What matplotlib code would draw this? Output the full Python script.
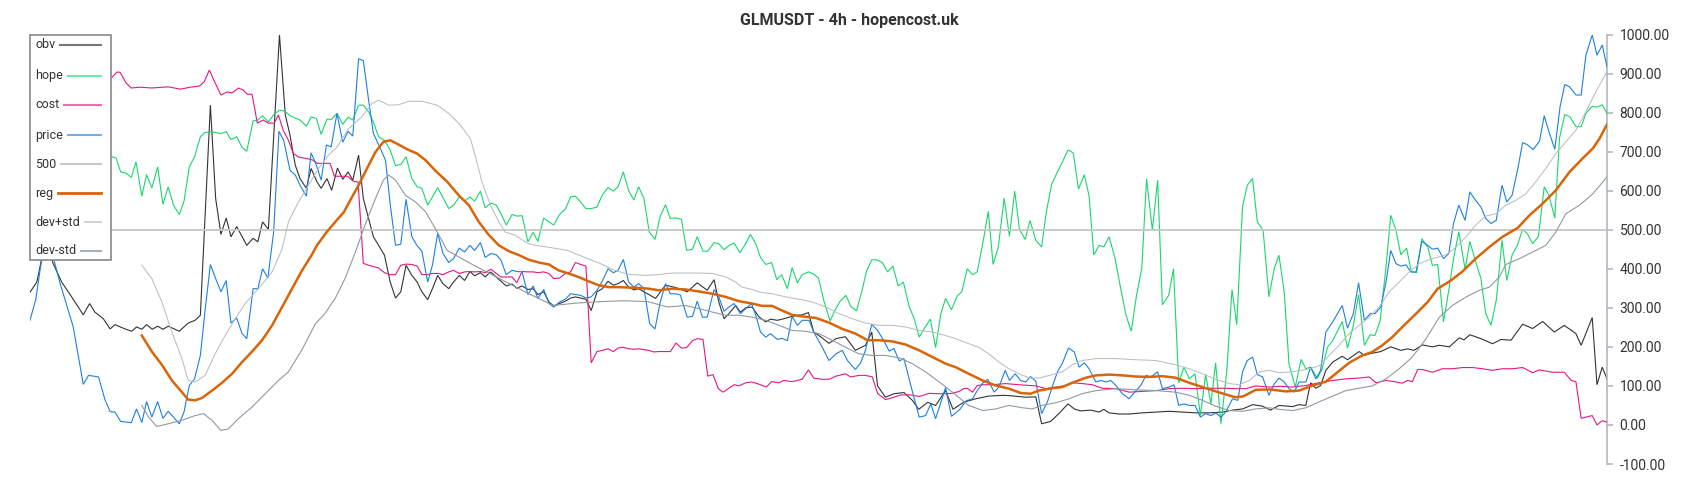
import matplotlib
matplotlib.use("Agg")
import matplotlib.pyplot as plt
from matplotlib.patches import Rectangle
from matplotlib.lines import Line2D
from matplotlib.ticker import FuncFormatter, MultipleLocator

plt.rcParams['font.family'] = ['Roboto', 'DejaVu Sans']

# ---------------- data (x = candle index, y = value) ----------------
obv_x = [0,1.3,2.2,3,3.8,4.4,6,7.9,10.1,11.3,12.3,13.9,15.2,16.1,18,19.3,20.2,21.2,22.1,23.2,24.2,25.2,26.2,28.3,30,31.3,32.3,34.2,35.2,36.2,37.2,38.1,39.2,41.1,42.3,43.2,44.1,45.2,47.3,48.4,49.3,50.3,51.2,52.4,53.3,54.4,55.2,56.3,57.2,58.3,59.3,60.3,61.2,62.3,63.2,64.2,65.1,66.1,67.2,68.3,69.3,70.3,71.3,72.4,73.4,74.3,75.4,76.3,77.3,78.3,79.4,80.3,81.4,82.4,83.4,84.3,85.4,86.3,87.3,88.4,89.3,90.3,91.4,92.3,93.3,94.4,95.4,96.3,97.4,98.4,99.3,100.4,101.5,102.5,103.4,104.4,105.4,106.4,107.5,108.5,109.6,110.6,111.5,112.5,113.5,114.5,115.4,116.4,117.6,118.6,120.5,122.4,124.6,126.5,128.4,129.7,130.6,131.6,132.5,133.8,134.7,135.7,136.9,138.2,139.5,140.4,141.7,142.9,144.2,145.5,146.4,147.6,148.6,149.9,151.5,152.8,154.6,156.5,158.4,159.6,160.7,162.2,163.8,165.7,167.3,168.5,170.2,171.7,173.6,175,177,179.3,181.8,184.7,186.6,188.8,190.7,191.8,193.5,195,196.8,198,199.2,201.1,202.7,203.6,204.6,206.5,208.4,210.9,213.5,216,218.5,221,223.6,226.1,228,229.9,231.8,233.7,235.2,236.8,239.4,240.6,241.9,242.8,243.8,244.7,245.7,247,248.8,249.8,252,253,253.9,256.1,258,259.9,261.2,262.4,264,265.9,267.2,269.1,271,271.9,273,275.1,277.3,278.9,280.8,283,284.9,286.8,289,290.9,293.1,294.1,296.2,297.1,298.1,299]
obv_y = [340,366,425,465,440,413,366,328,282,311,289,272,246,257,246,240,251,245,257,245,253,245,253,240,261,268,281,819,580,488,530,482,508,460,478,469,520,501,999,794,742,665,631,606,657,623,606,631,601,658,629,648,627,691,580,529,482,460,435,366,325,341,409,383,366,341,321,349,383,362,349,366,383,370,393,382,390,379,392,379,368,356,361,350,356,347,349,334,341,315,305,311,317,325,328,325,322,293,341,349,368,358,362,370,353,346,349,341,332,324,358,352,341,364,345,372,315,272,285,306,289,300,302,277,264,271,268,272,277,281,282,288,238,226,209,221,226,191,204,238,100,71,80,83,63,40,58,50,88,40,58,67,74,76,74,71,72,3,9,28,54,41,36,38,33,40,31,28,28,31,33,35,33,31,31,33,38,41,52,48,38,50,47,52,50,108,94,101,140,161,176,167,188,178,182,188,200,191,195,191,205,200,204,200,223,218,231,221,208,219,217,258,247,265,238,255,234,204,275,103,148,118]

hope_x = [0,8,15.6,16.3,17.2,18.2,19.2,20.1,21.2,22.1,23.1,24.2,25.2,26.2,27.2,28.3,29.2,30.2,31.2,32.3,33.2,34.2,35.2,36.2,37.2,38.1,39.2,40.2,41.1,42.3,43.2,44.1,45.2,46.2,47.3,48.3,49.3,50.3,51.2,52.4,53.3,54.3,55.2,56.3,57.2,58.2,59.3,60.3,61.2,62.3,63.2,64.2,65.1,66.1,67.2,68.3,69.3,70.3,71.3,72.4,73.4,74.3,75.4,76.3,77.3,78.3,79.4,80.3,81.4,82.4,83.4,84.3,85.4,86.3,87.4,88.4,89.3,90.3,91.4,92.3,93.3,94.4,95.4,96.3,97.4,98.4,99.3,100.4,101.5,102.5,103.4,104.4,105.4,106.4,107.5,108.5,109.6,110.6,111.5,112.5,113.5,114.5,115.4,116.4,117.4,118.5,119.5,120.5,121.4,122.4,123.5,124.5,125.6,126.5,127.6,128.5,129.7,130.6,131.6,132.5,133.5,134.6,135.5,136.6,137.6,138.5,139.5,140.6,141.6,142.5,143.6,144.5,145.5,146.4,147.6,148.5,149.5,150.5,151.7,152.6,153.6,154.7,155.6,156.7,157.7,158.6,159.6,160.5,161.6,162.6,163.6,164.6,165.6,166.7,167.6,168.6,169.6,170.7,171.7,172.7,173.6,174.7,175.8,176.7,177.7,178.7,179.6,180.7,181.7,182.6,183.6,184.7,185.7,186.7,187.6,188.7,189.6,190.7,191.8,192.7,193.7,194.8,195.7,196.8,197.8,198.8,199.9,200.8,201.7,202.7,203.6,204.6,205.7,206.8,207.8,208.8,209.8,210.8,211.7,212.8,213.8,214.7,215.9,216.8,217.8,218.8,219.8,220.9,221.9,222.9,223.9,224.8,225.8,226.9,227.9,228.8,229.9,230.8,231.8,232.7,233.8,234.9,235.9,236.8,237.8,238.7,239.9,241,241.9,242.8,244.1,245,246,247,248.8,249.8,250.9,251.9,253,254.1,255,256,257.1,258,259,259.9,261,261.9,262.9,263.9,265,265.9,266.9,268,269,269.9,270.9,272.1,273,274.1,275.1,276,277,278,279.1,280,281,282,283,283.9,284.9,286,287.1,288,289.1,290,291,292,293.1,294.1,295,296.2,297.1,298.1,299]
hope_y = [700,690,687,684,648,645,634,674,586,641,607,661,565,610,563,539,573,661,687,738,749,751,749,746,751,731,738,711,701,779,781,792,776,795,806,804,792,786,781,765,789,785,744,783,783,798,770,788,781,819,819,802,776,738,729,704,664,667,687,631,610,606,563,584,608,582,554,563,584,573,584,573,599,556,568,563,541,512,539,535,536,469,493,470,530,520,512,539,553,584,586,571,554,554,558,589,608,599,610,648,600,576,610,580,495,475,535,564,529,530,527,447,450,482,445,445,467,464,449,459,466,441,460,488,464,429,411,416,372,385,349,403,364,385,392,387,376,319,266,293,317,332,304,292,341,394,423,423,416,392,407,356,366,302,274,225,248,271,198,285,324,295,330,342,400,385,392,469,547,411,456,581,483,599,501,475,524,473,456,546,616,648,672,704,697,604,641,587,435,460,456,482,428,349,281,240,332,402,630,499,627,308,332,400,108,148,118,131,24,129,54,159,3,136,347,257,560,614,631,520,499,328,400,435,341,157,97,168,144,148,120,144,199,216,265,197,255,334,204,231,229,268,405,537,498,436,453,392,390,477,456,409,411,264,345,426,495,399,470,418,375,285,255,319,473,370,435,460,501,490,464,483,610,588,530,735,795,789,764,764,798,816,814,820,798]

cost_x = [0,8,15.6,16.5,17.1,18.2,19.2,20.9,23.1,25.2,26.2,28.5,30.4,32.1,33,34,35.1,36.2,37.4,38.3,39.5,40.4,41.2,42.1,43.1,44.2,45.2,46.3,47.1,48,49,49.9,50.9,52.2,53.5,54.5,56,56.9,57.7,58.8,60.2,61.3,62.2,63.2,64.2,66.1,67.2,68.3,69.3,70.3,71.3,72.4,73.4,74.3,75.4,76.3,77.3,78.3,79.4,80.3,81.4,82.4,83.4,84.3,85.4,86.3,87.4,88.4,89.3,90.3,91.4,92.3,93.3,94.4,95.4,96.3,97.4,98.4,99.3,100.4,101.5,102.5,103.4,104.4,105.4,106.4,107.5,108.5,109.6,110.6,111.5,112.5,113.5,114.5,115.4,116.4,117.3,118.3,119.2,121.4,122.5,123.5,124.5,125.6,126.5,127.6,128.5,129.5,130.5,131.4,132.5,133.5,134.4,135.7,136.8,137.9,139.6,140.6,142,142.9,144.5,146.4,147.6,148.6,150.2,151.5,152.8,154.6,155.6,157.2,158.4,159.7,160.7,162.2,163.8,165.1,167,168.6,170.5,172,173.6,174.9,176.2,177,177.7,178.7,179.6,180.6,182.5,185,187.5,190.7,192.6,194.5,196.4,197.6,199.5,201.4,203.3,205.9,208.4,210.9,213.5,216,218.5,221,223.6,226.1,228.6,230.5,232.4,235,236.8,239.4,241.9,244.4,247,249.5,252,253.9,255.2,257.1,258.6,260.2,261.2,262.1,263.1,264,265.9,267.8,269.7,271.6,273.5,275.4,277.3,279.2,281.1,283,284.9,286.2,288.7,290.9,292.2,293.1,294.1,295,296.2,297.1,298.1,299]
cost_y = [880,885,891,904,903,876,863,865,863,865,866,860,865,868,878,909,876,845,853,850,863,858,847,847,773,781,773,773,794,755,729,696,686,683,679,670,670,670,637,637,637,624,622,414,409,402,390,385,385,409,412,411,407,385,385,388,388,385,392,396,388,392,393,392,393,390,399,388,379,379,379,364,393,392,392,390,392,388,375,376,388,392,416,411,407,159,188,191,195,188,197,199,195,194,195,193,191,187,188,188,210,197,198,216,221,219,125,129,93,84,94,103,100,108,110,106,97,111,108,114,111,117,141,120,117,117,125,131,123,127,127,123,81,65,71,77,77,73,81,80,80,81,86,93,94,84,101,103,103,106,103,100,93,97,101,108,106,103,94,93,84,86,88,93,94,93,94,94,93,93,100,97,99,97,101,108,114,118,120,123,108,114,111,107,114,111,142,142,135,144,144,147,147,144,140,144,144,147,134,141,135,135,114,111,17,20,24,0,11,7]

price_x = [0,1.1,1.9,2.8,3.6,4.4,5.7,7,8.2,10.1,11.1,13,14.2,15.2,16.1,17.2,19.2,20.2,21.2,22.1,23.1,24.2,25.2,26.2,27.2,28.3,29.2,30.2,31.2,32.3,33.2,34.2,35.2,36.2,37.2,38.1,39.2,40.2,41.1,42.3,43.2,44.1,45.1,46.2,47.2,48.1,49.3,50.3,51.2,52.4,53.3,54.3,55.2,56.2,57.1,58.2,59.3,60.3,61.2,62.3,63.2,64.2,65.1,66.3,67.4,68.3,69.3,70.3,71.3,72.4,73.4,74.3,75.4,76.3,77.3,78.3,79.4,80.3,81.4,82.4,83.4,84.3,85.4,86.3,87.4,88.4,89.3,90.3,91.4,92.3,93.3,94.4,95.4,96.3,97.4,98.4,99.3,100.4,101.5,102.5,103.4,104.4,105.4,106.4,107.5,108.5,109.6,110.6,111.5,112.5,113.5,114.5,115.4,116.4,117.5,118.5,119.5,120.5,121.4,122.4,123.3,124.6,125.6,126.5,127.5,128.4,129.7,130.6,131.6,132.5,133.5,134.7,135.7,136.8,137.6,138.5,139.5,140.4,141.7,142.6,143.6,144.5,145.5,146.4,147.7,148.6,150.2,151.5,152.8,154,155,156.5,157.5,158.4,159.6,160.7,161.9,162.9,163.8,164.8,165.7,167,168.6,169.8,170.8,171.7,173.6,174.7,176.3,177.5,178.7,179.6,180.7,181.6,182.8,183.7,184.9,185.7,186.8,187.8,188.8,189.7,190.7,191.8,192.9,193.8,194.8,195.7,196.9,198,198.9,199.9,200.8,202.1,203,204,204.9,205.9,207.1,208.4,209.7,210.6,211.6,212.5,213.8,214.7,216,216.9,217.8,218.8,219.8,220.9,221.9,222.9,223.9,224.8,225.8,226.7,228,229,229.9,230.8,231.8,232.7,233.7,234.9,235.9,236.8,237.8,238.7,239.7,240.6,241.9,242.8,243.8,244.7,245.7,247,248.8,249.8,250.9,251.9,253,254.1,255,256.1,257.1,258,259,259.9,260.9,261.8,262.8,263.9,265,265.9,266.9,268,269,269.9,270.9,272.1,273,274.1,275.1,276,277,278,279.1,280,281,282.1,283,283.9,285,286.2,287.1,288,289.1,290.1,291,291.9,293.1,294.1,295,296.2,297.1,298.1,299]
price_y = [268,322,396,470,480,430,363,305,251,104,127,123,65,34,33,9,6,41,6,60,20,60,17,35,20,3,33,101,118,178,294,411,375,341,370,261,274,234,221,349,349,400,376,495,752,729,652,640,614,586,697,665,627,717,712,798,724,752,740,938,933,832,747,712,678,565,460,463,578,482,459,445,366,409,491,439,416,426,453,443,460,447,467,429,439,436,422,385,396,393,392,334,356,324,347,311,302,315,322,336,334,332,325,328,345,368,400,390,396,424,366,353,362,349,259,246,315,362,336,336,333,276,278,317,276,276,347,328,291,302,311,285,298,311,281,238,225,234,219,222,216,278,255,268,268,238,199,165,182,191,165,142,159,191,258,242,216,189,196,164,170,101,20,24,54,16,96,22,40,62,67,88,108,117,84,97,140,114,131,114,110,124,112,29,59,97,136,157,197,187,148,159,144,110,114,110,114,101,80,67,88,101,127,123,136,93,97,103,50,54,50,50,20,29,24,31,20,33,67,63,136,165,174,129,123,76,105,120,110,93,84,110,110,148,118,140,238,264,306,248,285,364,268,285,285,302,366,447,413,407,410,392,392,470,460,450,453,426,439,516,563,524,597,575,558,529,516,524,614,571,588,657,723,718,705,727,792,751,706,815,872,866,845,845,947,999,947,973,917]

level_x = [0, 299]
level_y = [500, 500]

reg_x = [21.2,23.1,25,26.9,28.8,30,31.3,32.6,35,36.4,38.3,40.2,42.1,44,45.9,47.8,49.7,51.5,53.4,54.4,56.3,58.2,59.5,60.7,62.3,63.9,65.5,67,68.3,69.9,71.5,73.4,75,76.8,79.1,81.3,83.2,85.1,86.9,88.9,90.8,92.7,94.6,96.5,98.4,100.2,102.1,104,105.9,107.8,109.7,111.6,113.5,115.4,117.3,119.2,121.8,124.3,126.8,129.4,131.9,134.4,136.9,138.8,140.7,142.6,144.5,146.4,149,151.5,154,156.5,158.8,161,163.5,166,168.6,171.1,173.6,175.5,178,180.6,183.1,185.6,187.8,189.7,191.3,193.8,195.7,197.6,200.2,202.1,204.6,207.1,209.7,212.2,214.7,217.2,219.8,222.3,224.8,226.5,228.5,230,232.4,235,238.1,240.6,243.2,245.7,247.9,250.1,252.6,254.5,256.4,258.3,260.2,262.8,265,266.9,269.4,271.6,274.1,276.7,279.2,282.1,284.3,286.8,289.3,291.9,294.4,296.3,297.6,299]
reg_y = [229,188,154,114,84,65,63,69,93,108,131,161,188,217,255,302,349,394,435,460,495,525,545,575,614,657,699,725,729,718,706,695,678,652,623,588,563,520,488,460,445,435,423,416,411,396,388,379,368,358,353,353,352,351,349,345,349,347,342,336,328,317,311,305,305,293,282,278,274,262,246,234,217,217,214,206,191,174,157,148,131,114,101,93,82,80,88,94,97,108,121,127,129,127,124,123,125,121,108,97,86,79,71,73,90,91,86,88,101,111,135,159,178,187,204,225,251,285,315,349,370,393,426,456,482,505,537,567,601,648,683,708,734,770]

up_x = [21.2,23.1,25,26.9,28.8,30,31.3,33.2,35.1,37,38.9,40.8,43.3,45.9,47.8,49,50.9,52.8,54.7,56.6,58.2,60.4,62.9,64.8,66.1,68,69.9,71.8,74.3,77.2,79.4,81.6,83.5,84.4,85.7,87.3,88.9,90.1,92,94.3,96,98.4,101.9,105,108.2,110.5,113.3,116.7,119.2,121.8,124.3,126.8,129.4,131.9,133.8,135,136.9,138.8,140.7,143.3,145.8,148.3,150.9,153.4,155.9,158.4,161,163.5,166,168.6,171.1,173.6,175.5,177.4,179.9,181.8,183.7,185.6,187.8,189.7,191.3,193.2,195.7,197.6,199.5,202.1,205.9,209.7,213.5,217.2,219.8,222.3,224.8,227.4,229.3,231.2,233.1,235,236.8,239.4,241.9,244.4,246.3,248.2,250.1,252,253.9,255.8,257.7,259.6,261.5,263.4,265.9,268.5,270.4,272.3,274.1,276,278,279.8,281.7,283.6,285.5,287.4,289.3,291.2,293.1,295,296.9,299]
up_y = [409,375,315,238,170,114,110,127,182,229,272,311,349,392,451,520,571,614,657,691,712,759,789,823,832,819,820,829,829,819,798,768,733,691,622,563,520,494,486,465,460,455,447,430,413,398,386,383,385,389,389,389,388,379,366,353,347,339,336,328,322,315,302,285,272,261,255,255,251,242,238,229,221,211,199,182,161,144,129,120,120,127,136,154,165,170,170,167,165,154,144,131,117,106,103,114,136,140,134,136,142,151,178,204,234,255,276,302,341,366,392,413,426,436,456,482,512,535,541,563,575,592,623,657,695,725,755,802,854,905]

low_x = [21.2,22.5,24,26.2,28.8,31.3,32.9,34.5,36.2,37.6,39.5,42.1,44.6,47.1,49,51.5,54.1,55.9,57.9,59.8,61.7,63.6,65.5,67,68,69.3,71.2,73.1,75,76.8,79.1,84,89,94,99.2,103.5,108.2,112.5,117.1,120.9,124.3,126.8,129.4,131.9,134.4,136.9,139.5,142,144.5,147,149.6,152.1,154.6,157.2,159.7,162.2,164.8,167.3,169.8,172.4,174.9,176.8,178,180.6,183.1,185.6,188.2,190,191.9,194.5,197,199.5,202.1,205.9,209.7,213.5,217.2,219.8,222.3,224.8,227.4,229.9,232.4,235,236.8,239.4,241.9,244.4,247,249.5,252,254.5,257.1,259.6,262.1,264.7,267.2,269.7,272.3,274.8,276.7,278.6,279.8,282.4,284.9,287.4,289.3,291.2,293.8,296.3,299]
low_y = [50,20,-4,3,12,24,29,12,-14,-10,16,46,80,114,136,191,259,285,325,377,443,515,580,627,640,627,588,571,546,504,447,410,375,340,306,312,316,318,316,302,306,298,289,281,281,276,268,255,242,240,234,217,199,182,178,178,172,157,136,110,84,63,50,37,41,50,44,41,50,57,67,80,88,93,90,88,84,76,63,48,37,35,41,44,40,37,44,59,74,88,94,100,118,144,174,221,276,306,328,345,353,379,411,426,443,460,494,541,563,592,635]

legend_names = ['obv', 'hope', 'cost', 'price', '500', 'reg', 'dev+std', 'dev-std']
title_text = 'GLMUSDT - 4h - hopencost.uk'
y_ticks = [-100, 0, 100, 200, 300, 400, 500, 600, 700, 800, 900, 1000]

# ---------------- styling ----------------
W, H = 1700, 500
fig = plt.figure(figsize=(W / 100, H / 100), dpi=100)
fig.patch.set_facecolor('white')
ax_l, ax_r, ax_t, ax_b = 30, 1607, 34.5, 464
ax = fig.add_axes([ax_l / W, 1 - ax_b / H, (ax_r - ax_l) / W, (ax_b - ax_t) / H])
ax.set_facecolor('white')

series = [
    (obv_x, obv_y, '#333333', 0.8),
    (hope_x, hope_y, '#19d76c', 0.8),
    (cost_x, cost_y, '#e6187f', 0.8),
    (price_x, price_y, '#1d80e2', 0.8),
    (level_x, level_y, '#c6c6c6', 1.3),
    (reg_x, reg_y, '#d9650a', 1.8),
    (up_x, up_y, '#b7bfc5', 0.75),
    (low_x, low_y, '#8e9aa4', 0.8),
]
for i, (xs, ys, c, lw) in enumerate(series):
    ax.plot(xs, ys, color=c, lw=lw, zorder=2 + i, solid_joinstyle='miter')

ax.set_xlim(0, 299)
ax.set_ylim(-100, 1000)
for s in ['left', 'top', 'bottom']:
    ax.spines[s].set_visible(False)
ax.spines['right'].set_color('#a9b3bb')
ax.spines['right'].set_linewidth(1.1)
ax.set_xticks([])
ax.yaxis.tick_right()
ax.set_yticks(y_ticks)
ax.yaxis.set_major_formatter(FuncFormatter(lambda v, p: f"{v:.2f}"))
ax.tick_params(axis='y', direction='out', length=4, width=1.1, color='#a9b3bb',
               labelcolor='#333333', labelsize=10, pad=5)

fig.text(849 / W, 1 - 21 / H, title_text, ha='center', va='center',
         fontsize=11.5, fontweight='bold', color='#333333')

# ---------------- legend (custom, handles right of labels) ----------------
leg_colors = ['#777777', '#6fe9a4', '#ef6cb0', '#6eb1ee', '#c8c8c8', '#d9650a', '#cfd4d8', '#a7b0b8']
leg_lw = [1.5, 1.5, 1.5, 1.5, 1.5, 2.0, 1.5, 1.5]
box = Rectangle((30 / W, 1 - 260 / H), 81 / W, 225 / H, transform=fig.transFigure,
                facecolor='white', edgecolor='#888888', lw=1.2, zorder=20)
fig.add_artist(box)
row_y = [45, 76, 104.5, 135, 164, 193, 222, 251]
fig.canvas.draw()
renderer = fig.canvas.get_renderer()
for name, yy, c, lw in zip(legend_names, row_y, leg_colors, leg_lw):
    t = fig.text(35 / W, 1 - yy / H, name, ha='left', va='center', fontsize=9,
                 color='#333333', zorder=21)
    bb = t.get_window_extent(renderer=renderer)
    x0 = bb.x1 + 5
    ln = Line2D([x0 / W, 101 / W], [1 - yy / H, 1 - yy / H], transform=fig.transFigure,
                color=c, lw=lw, zorder=21)
    fig.add_artist(ln)

fig.savefig('out.png', dpi=100, facecolor='white')
